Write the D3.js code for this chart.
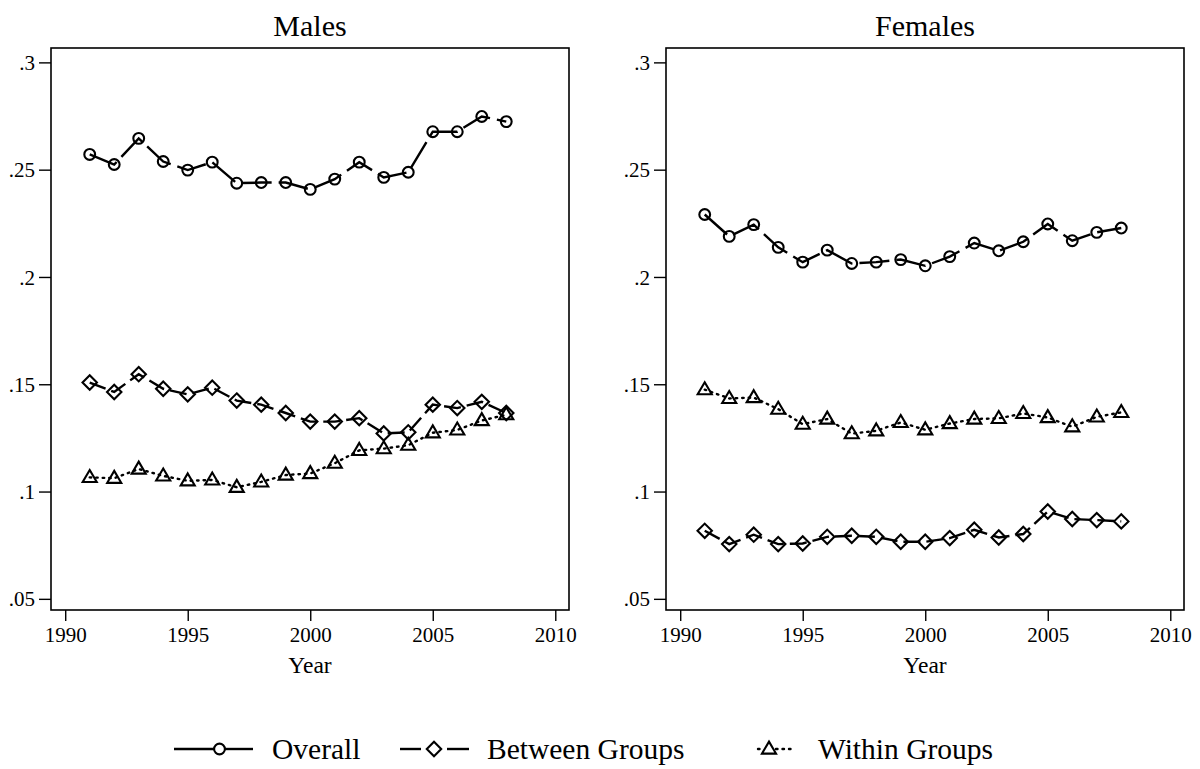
<!DOCTYPE html>
<html>
<head>
<meta charset="utf-8">
<script src="https://cdn.jsdelivr.net/npm/d3@7/dist/d3.min.js"></script>
<style>
  html, body { margin: 0; padding: 0; background: #fff; }
  svg { display: block; }
  text { font-family: "Liberation Serif", "Times New Roman", serif; fill: #000; }
</style>
</head>
<body>
<svg id="chart" width="1200" height="769"></svg>
<script>
// ---- data ----
const years = [1991,1992,1993,1994,1995,1996,1997,1998,1999,2000,2001,2002,2003,2004,2005,2006,2007,2008];

const maleOverall = [0.2571,0.2524,0.2646,0.2538,0.2498,0.2535,0.2437,0.2440,0.2440,0.2408,0.2456,0.2535,0.2464,0.2488,0.2677,0.2677,0.2748,0.2724];
const maleBetween = [0.1508,0.1464,0.1547,0.1479,0.1453,0.1484,0.1424,0.1405,0.1366,0.1326,0.1326,0.1342,0.1271,0.1276,0.1405,0.1389,0.1418,0.1366];
const maleWithin  = [0.1066,0.1062,0.1105,0.1073,0.1050,0.1054,0.1020,0.1045,0.1077,0.1084,0.1132,0.1192,0.1200,0.1216,0.1274,0.1287,0.1331,0.1358];

const femaleOverall = [0.2291,0.2189,0.2244,0.2138,0.2069,0.2125,0.2063,0.2069,0.2081,0.2052,0.2095,0.2158,0.2122,0.2164,0.2247,0.2169,0.2208,0.2228];
const femaleBetween = [0.0817,0.0755,0.0799,0.0755,0.0758,0.0789,0.0794,0.0789,0.0766,0.0766,0.0783,0.0822,0.0786,0.0802,0.0907,0.0872,0.0867,0.0861];
const femaleWithin  = [0.1475,0.1434,0.1438,0.1384,0.1314,0.1338,0.1270,0.1283,0.1322,0.1288,0.1317,0.1338,0.1341,0.1364,0.1345,0.1302,0.1348,0.1369];

const panelTitles = ["Males", "Females"];
const seriesNames = ["Overall", "Between Groups", "Within Groups"];
const xTicks = [1990, 1995, 2000, 2005, 2010];
const yTicks = [0.05, 0.10, 0.15, 0.20, 0.25, 0.30];
const yTickLabels = [".05", ".1", ".15", ".2", ".25", ".3"];
const xTitle = "Year";

// ---- layout ----
const FONT = '"Liberation Serif", "Times New Roman", Times, serif';
const svg = d3.select("#chart").attr("font-family", FONT);
const panelLefts = [51, 666];
const panelWidth = 518;
const plotTop = 48, plotBottom = 610;
const xDomain = [1989.42, 2010.56];
const yDomain = [0.0448, 0.3067];

const styles = [
  { dash: "30,7", marker: "circle" },
  { dash: "17,6", marker: "diamond" },
  { dash: "1.5,5", marker: "triangle" }
];
const lw = 2.4;

function markerPath(type) {
  if (type === "circle") return d3.symbol().type(d3.symbolCircle).size(Math.PI * 5.4 * 5.4)();
  if (type === "diamond") { const s = 7.2; return `M0,${-s}L${s},0L0,${s}L${-s},0Z`; }
  const r = 7.4; // triangle
  return `M0,${-r}L${r*0.95},${r*0.62}L${-r*0.95},${r*0.62}Z`;
}

const panels = [
  [maleOverall, maleBetween, maleWithin],
  [femaleOverall, femaleBetween, femaleWithin]
];

panels.forEach((seriesSet, pi) => {
  const x = d3.scaleLinear().domain(xDomain).range([panelLefts[pi], panelLefts[pi] + panelWidth]);
  const y = d3.scaleLinear().domain(yDomain).range([plotBottom, plotTop]);
  const g = svg.append("g");

  // frame
  g.append("rect")
    .attr("x", panelLefts[pi]).attr("y", plotTop)
    .attr("width", panelWidth).attr("height", plotBottom - plotTop)
    .attr("fill", "none").attr("stroke", "#000").attr("stroke-width", 1.6);

  // y axis
  const yAxis = d3.axisLeft(y).tickValues(yTicks)
    .tickFormat((d, i) => yTickLabels[i]).tickSize(12).tickPadding(4);
  const ya = g.append("g").attr("transform", `translate(${panelLefts[pi]},0)`).call(yAxis)
    .attr("font-family", FONT).attr("font-size", 21);
  ya.select(".domain").remove();
  ya.selectAll("line").attr("stroke", "#000").attr("stroke-width", 1.4);
  ya.selectAll("text").attr("dy", "0.34em");

  // x axis
  const xAxis = d3.axisBottom(x).tickValues(xTicks).tickFormat(d3.format("d")).tickSize(11).tickPadding(6);
  const xa = g.append("g").attr("transform", `translate(0,${plotBottom})`).call(xAxis)
    .attr("font-family", FONT).attr("font-size", 21);
  xa.select(".domain").remove();
  xa.selectAll("line").attr("stroke", "#000").attr("stroke-width", 1.4);

  // x title
  g.append("text").attr("x", panelLefts[pi] + panelWidth / 2).attr("y", 673)
    .attr("text-anchor", "middle").attr("font-size", 23.5).text(xTitle);

  // panel title
  g.append("text").attr("x", panelLefts[pi] + panelWidth / 2).attr("y", 36)
    .attr("text-anchor", "middle").attr("font-size", 30).text(panelTitles[pi]);

  // series
  seriesSet.forEach((vals, si) => {
    const pts = years.map((yr, i) => [x(yr), y(vals[i])]);
    g.append("path")
      .attr("d", d3.line()(pts))
      .attr("fill", "none").attr("stroke", "#000").attr("stroke-width", lw)
      .attr("stroke-dasharray", styles[si].dash)
      .attr("stroke-linecap", si === 2 ? "round" : "butt");
    g.selectAll(null).data(pts).enter().append("path")
      .attr("d", markerPath(styles[si].marker))
      .attr("transform", d => `translate(${d[0]},${d[1]})`)
      .attr("fill", "none").attr("stroke", "#000").attr("stroke-width", 2.1);
  });
});

// ---- legend ----
const lg = svg.append("g");
const ly = 749;
const legendItems = [
  { segs: [[174, 214], [225, 253]], dash: null, mx: 219.5, text: 272, marker: "circle" },
  { segs: [[400, 421], [447, 469]], dash: null, mx: 434, text: 487, marker: "diamond" },
  { segs: [[758, 764], [776, 793]], dash: "1.5,5", mx: 769, text: 818, marker: "triangle" }
];
legendItems.forEach((it, i) => {
  it.segs.forEach(s => {
    lg.append("line").attr("x1", s[0]).attr("x2", s[1]).attr("y1", ly).attr("y2", ly)
      .attr("stroke", "#000").attr("stroke-width", lw)
      .attr("stroke-dasharray", it.dash).attr("stroke-linecap", it.dash ? "round" : "butt");
  });
  lg.append("path").attr("d", markerPath(it.marker))
    .attr("transform", `translate(${it.mx},${ly})`)
    .attr("fill", "none").attr("stroke", "#000").attr("stroke-width", 2.1);
  lg.append("text").attr("x", it.text).attr("y", ly + 9.5).attr("font-size", 29.5).text(seriesNames[i]);
});
</script>
</body>
</html>
